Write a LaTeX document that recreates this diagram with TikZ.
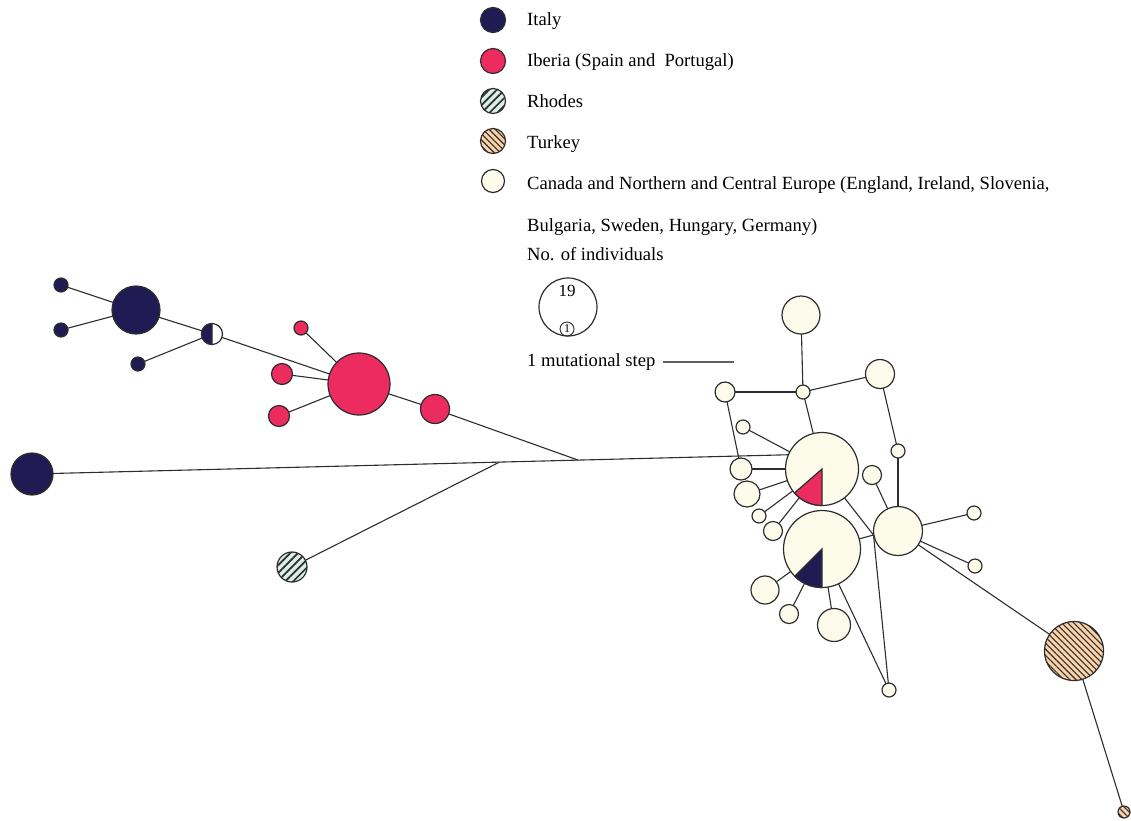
\documentclass[tikz,border=0pt]{standalone}
\usepackage{fontspec}
\setmainfont{Liberation Serif}
\usetikzlibrary{calc, patterns.meta}

\definecolor{italy}{RGB}{33,27,84}
\definecolor{iberia}{RGB}{236,44,94}
\definecolor{rhodes}{RGB}{218,238,232}
\definecolor{turkey}{RGB}{251,210,168}
\definecolor{canada}{RGB}{253,252,235}
\definecolor{edge}{RGB}{45,45,45}

\tikzset{
    hap/.style={circle, draw=edge, line width=1.2pt, inner sep=0pt, outer sep=0pt, minimum size=2*#1},
    it/.style={hap=#1, fill=italy},
    ib/.style={hap=#1, fill=iberia},
    rh/.style={hap=#1, fill=rhodes, postaction={pattern={Lines[angle=45,distance=5.5pt,line width=1.7pt]}, pattern color=edge}},
    tk/.style={hap=#1, fill=turkey, postaction={pattern={Lines[angle=-45,distance=4.3pt,line width=1.1pt]}, pattern color=edge}},
    ca/.style={hap=#1, fill=canada},
    link/.style={draw=edge, line width=1.1pt},
    legend/.style={anchor=base west, inner sep=0pt},
}

\begin{document}
\begin{tikzpicture}[x=1pt, y=-1pt, font=\fontsize{18.6}{22}\selectfont]
    \useasboundingbox (0,0) rectangle (1131,820);

    \node[it=12.5] (lit) at (493,20) {};
    \node[legend] (tit) at (527,25) {Italy};
    \node[ib=12.5] (lib) at (493,61) {};
    \node[legend] (tib) at (527,66) {Iberia (Spain and\ \ Portugal)};
    \node[rh=12.5] (lrh) at (493,101) {};
    \node[legend] (trh) at (527,107) {Rhodes};
    \node[tk=12.5] (ltk) at (493,141) {};
    \node[legend] (ttk) at (527,148) {Turkey};
    \node[ca=11.5] (lca) at (493,181) {};
    \node[legend] (tca) at (527,189) {Canada and Northern and Central Europe (England, Ireland, Slovenia,};
    \node[legend] (tcb) at (527,231) {Bulgaria, Sweden, Hungary, Germany)};
    \node[legend] (tno) at (527,260) {No. of individuals};
    \node[hap=29] (big) at (568,307) {};
    \node[font=\fontsize{17}{17}\selectfont, inner sep=0pt] (n19) at (567,291) {19};
    \node[hap=7, line width=0.9pt] (one) at (567,329) {};
    \node[font=\fontsize{12}{12}\selectfont, inner sep=0pt] (n1) at (one) {1};
    \node[legend] (tms) at (527,366) {1 mutational step};
    \coordinate (msa) at (663,362);
    \coordinate (msb) at (734,362);
    \draw[link, draw=edge!75] (msa) -- (msb);

    \node[it=7] (ia) at (61,285) {};
    \node[it=7] (ib) at (61,330) {};
    \node[it=24] (IT) at (136,310) {};
    \node[it=7] (ic) at (138,364) {};
    \node[hap=10.5, fill=white] (HF) at (212,334) {};
    \filldraw[fill=italy, draw=edge, line width=1.2pt] (HF.90) arc[start angle=90, end angle=270, radius=10.5pt] -- cycle;
    \node[it=21] (ITL) at (32,474) {};

    \node[ib=31] (IB) at (359,384) {};
    \node[ib=7] (pa) at (301,328) {};
    \node[ib=10.5] (pb) at (282,374) {};
    \node[ib=10.5] (pc) at (279,416) {};
    \node[ib=14.5] (pd) at (435,409) {};

    \node[rh=15] (RH) at (292,567) {};

    \node[ca=19] (T) at (801,315) {};
    \node[ca=7] (H) at (803,392) {};
    \node[ca=10] (L) at (725,392) {};
    \node[ca=14.5] (R) at (880,374) {};
    \node[ca=7] (S1) at (743,427) {};
    \node[ca=7] (S2) at (898,451) {};
    \node[ca=36.5] (C1) at (822,469) {};
    \filldraw[fill=iberia, draw=edge, line width=1.2pt] (C1.center) -- (C1.270) arc[start angle=270, end angle=221, radius=36.5pt] -- cycle;
    \node[ca=38.5] (C2) at (822,549) {};
    \filldraw[fill=italy, draw=edge, line width=1.2pt] (C2.center) -- (C2.270) arc[start angle=270, end angle=225, radius=38.5pt] -- cycle;
    \node[ca=11] (L2) at (741,469) {};
    \node[ca=13] (L3) at (747,494) {};
    \node[ca=7] (L4) at (759,516) {};
    \node[ca=9.5] (L5) at (773,531) {};
    \node[ca=9.5] (R2) at (872,475) {};
    \node[ca=24.5] (N) at (898,531) {};
    \node[ca=7] (NE1) at (974,513) {};
    \node[ca=7] (NE2) at (975,566) {};
    \node[ca=14] (B1) at (765,590) {};
    \node[ca=9.5] (B2) at (789,614) {};
    \node[ca=16.5] (B3) at (834,625) {};
    \node[ca=7] (B4) at (889,690) {};

    \node[tk=29.5] (TK) at (1074,651) {};
    \node[tk=6] (tk) at (1124,812) {};

    \coordinate (J2) at ($(ITL)!0.618!(C1.157)$);
    \coordinate (J1) at ($(ITL)!0.722!(C1.157)$);
    \coordinate (J3) at (873.5,535);

    \draw[link] (ia) -- (IT);
    \draw[link] (ib) -- (IT);
    \draw[link] (IT) -- (HF);
    \draw[link] (ic) -- (HF);
    \draw[link] (HF) -- (IB);
    \draw[link] (pa) -- (IB);
    \draw[link] (pb) -- (IB);
    \draw[link] (pc) -- (IB);
    \draw[link] (IB) -- (pd);
    \draw[link] (pd) -- (J1);
    \draw[link] (ITL) -- (J2) -- (J1) -- (C1.157);
    \draw[link] (RH) -- (J2);

    \draw[link] (T) -- (H);
    \draw[link] (H) -- (L);
    \draw[link] (H) -- (R);
    \draw[link] (H) -- (C1);
    \draw[link] (L) -- (L2);
    \draw[link] (S1) -- (C1);
    \draw[link] (L2) -- (C1);
    \draw[link] (L3) -- (C1);
    \draw[link] (L4) -- (C1);
    \draw[link] (L5) -- (C1);
    \draw[link] (R) -- (S2);
    \draw[link] (S2) -- (N);
    \draw[link] (R2) -- (N);
    \draw[link] (C1) -- (J3);
    \draw[link] (C2) -- (J3);
    \draw[link] (J3) -- (B4);
    \draw[link] (C2) -- (B1);
    \draw[link] (C2) -- (B2);
    \draw[link] (C2) -- (B3);
    \draw[link] (C2) -- (B4);
    \draw[link] (N) -- (NE1);
    \draw[link] (N) -- (NE2);
    \draw[link] (N) -- (TK);
    \draw[link] (TK) -- (tk);
\end{tikzpicture}
\end{document}
